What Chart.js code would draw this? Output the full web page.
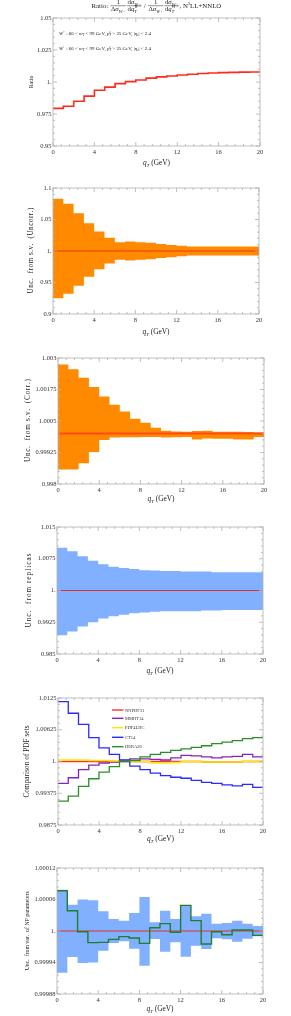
<!DOCTYPE html>
<html><head><meta charset="utf-8">
<script src="https://cdn.jsdelivr.net/npm/chart.js@4/dist/chart.umd.min.js"></script>
<style>
html,body{margin:0;padding:0;background:#fff;}
body{width:291px;height:1016px;overflow:hidden;position:relative;}
canvas{position:absolute;left:0;}
</style></head>
<body>
<canvas id="c1"></canvas><canvas id="c2"></canvas><canvas id="c3"></canvas>
<canvas id="c4"></canvas><canvas id="c5"></canvas><canvas id="c6"></canvas>
<script>
// ---------- data ----------
const qtEdges = [0,1,2,3,4,5,6,7,8,9,10,11,12,13,14,15,16,17,18,19,20];
const xTicks = [0,4,8,12,16,20];
const xTickLabels = ['0','4','8','12','16','20'];

const ratioValues = [0.9794,0.981,0.985,0.989,0.9935,0.996,0.9987,1.0003,1.0016,1.003,1.004,1.0047,1.0055,1.006,1.0066,1.007,1.0073,1.0075,1.0077,1.0078];
const ratioTicks = [0.95,0.975,1,1.025,1.05];
const ratioTickLabels = ['0.95','0.975','1.','1.025','1.05'];

const centralOnes = [1,1,1,1,1,1,1,1,1,1,1,1,1,1,1,1,1,1,1,1];

const svUncorrUp = [1.083,1.075,1.060,1.044,1.031,1.021,1.014,1.015,1.014,1.013,1.011,1.0095,1.0085,1.007,1.007,1.007,1.007,1.007,1.007,1.007];
const svUncorrDown = [0.925,0.932,0.945,0.959,0.971,0.980,0.986,0.985,0.986,0.987,0.989,0.990,0.9915,0.993,0.993,0.993,0.993,0.993,0.993,0.993];
const svUncorrTicks = [0.9,0.95,1,1.05,1.1];
const svUncorrTickLabels = ['0.9','0.95','1.','1.05','1.1'];

const svCorrUp = [1.00274,1.00255,1.00222,1.00185,1.00147,1.00114,1.00088,1.00059,1.00043,1.00023,1.00011,1.00008,1.00007,1.0001,1.00011,1.00007,1.00007,1.00007,1.00006,1.00004];
const svCorrDown = [0.99858,0.99858,0.99882,0.99927,0.99975,0.99985,0.99986,0.99986,0.99987,0.99987,0.99985,0.99986,0.99987,0.99977,0.99981,0.9998,0.9998,0.99977,0.99977,0.99987];
const svCorrTicks = [0.998,0.99925,1.0005,1.00175,1.003];
const svCorrTickLabels = ['0.998','0.99925','1.0005','1.00175','1.003'];

const replicaUp = [1.0101,1.0093,1.0081,1.0070,1.0062,1.0056,1.0053,1.0051,1.0048,1.0047,1.0046,1.0046,1.0045,1.0045,1.0045,1.0043,1.0043,1.0043,1.0043,1.0043];
const replicaDown = [0.9894,0.9903,0.9915,0.9925,0.9934,0.9939,0.9943,0.9946,0.9948,0.995,0.9951,0.9951,0.9951,0.9951,0.9953,0.9953,0.9954,0.9954,0.9954,0.9954];
const replicaTicks = [0.985,0.9925,1,1.0075,1.015];
const replicaTickLabels = ['0.985','0.9925','1.','1.0075','1.015'];

const nnpdf31 = [1,1,1,1,1,1,1,1,1,1,1,1,1,1,0.9999,0.9999,0.9999,0.9999,1,1];
const mmht14 = [0.9957,0.9968,0.9984,0.9993,0.9997,0.9999,1.0002,1.0005,1.0005,1.0004,1.0003,1.0007,1.0012,1.0011,1.0009,1.0007,1.0009,1.001,1.0014,1.0009];
const pdf4lhc = [1.0003,1.0003,1.0003,1.0002,1.0002,1.0001,1.0001,1.0,1.0,0.9997,0.9997,0.9998,1.0,1.0,0.9999,0.9999,0.9999,0.9999,1.0,1.0];
const ct14 = [1.0118,1.0095,1.0073,1.0047,1.0027,1.0014,1.0003,0.9991,0.9984,0.9977,0.9972,0.9969,0.9967,0.9963,0.9959,0.9957,0.9954,0.9952,0.9955,0.9949];
const hera20 = [0.9922,0.9932,0.9951,0.9966,0.9979,0.999,1.0,1.0002,1.0009,1.0014,1.0018,1.0022,1.0025,1.0028,1.0031,1.0035,1.0038,1.0041,1.0045,1.0047];
const pdfSetNames = ['NNPDF31','MMHT14','PDF4LHC','CT14','HERA20'];
const pdfTicks = [0.9875,0.99375,1,1.00625,1.0125];
const pdfTickLabels = ['0.9875','0.99375','1.','1.00625','1.0125'];

const npUp = [1.0000787,1.00005,1.00006,1.0000584,1.0000375,1.0000229,1.0000197,1.0000343,1.0000648,1.0000165,1.0000387,1.0000229,1.0000495,1.0000279,1.000033,1.000014,1.0000152,1.0000197,1.000014,1.0000095];
const npDown = [0.9999206,0.9999505,0.999939,0.99994,0.9999625,0.9999771,0.9999803,0.9999663,0.999934,0.9999848,0.9999606,0.9999784,0.999951,0.999972,0.9999657,0.999986,0.9999841,0.9999797,0.9999854,0.9999898];
const npVariation = [1.0000768,1.0000387,0.9999987,0.9999778,0.9999784,0.9999841,0.9999892,0.9999867,0.9999765,1.0000063,1.000014,0.9999975,1.0000489,1.0000197,0.9999752,0.9999987,0.999993,1.0000019,1.0000019,0.9999917];
const npTicks = [0.99988,0.99994,1,1.00006,1.00012];
const npTickLabels = ['0.99988','0.99994','1.','1.00006','1.00012'];

// ---------- helpers ----------
const FONT = "'Liberation Serif','DejaVu Serif',serif";
const fnt = (s, it) => (it ? 'italic ' : '') + s.toFixed(2) + 'px ' + FONT;
const steps = vals => vals.map((v, i) => ({x: qtEdges[i], y: v})).concat([{x: qtEdges[vals.length], y: vals[vals.length - 1]}]);
const line = (vals, color, width, label, order) => ({label, data: steps(vals), borderColor: color, borderWidth: width, stepped: true, fill: false, pointRadius: 0, order});
const band = (lo, hi, color) => [
  {data: steps(lo), borderColor: 'rgba(0,0,0,0)', borderWidth: 0, stepped: true, fill: false, pointRadius: 0, order: 20},
  {data: steps(hi), borderColor: 'rgba(0,0,0,0)', borderWidth: 0, stepped: true, fill: '-1', backgroundColor: color, pointRadius: 0, order: 19}
];

function partWidth(ctx, p, size) {
  if (p.num) return Math.max(partsWidth(ctx, p.num, size), partsWidth(ctx, p.den, size)) + size * 0.3;
  if (p.sub !== undefined) { ctx.font = fnt(size * 0.65, p.i); return Math.max(ctx.measureText(p.sub).width, ctx.measureText(p.sup).width); }
  ctx.font = fnt(p.s ? size * 0.65 : size, p.i);
  return ctx.measureText(p.t).width;
}
function partsWidth(ctx, parts, size) { let w = 0; for (const p of parts) w += partWidth(ctx, p, size); return w; }
function drawParts(ctx, parts, x, y, size) {
  let cx = x;
  for (const p of parts) {
    const w = partWidth(ctx, p, size);
    if (p.num) {
      const axis = y - size * 0.3;
      const wn = partsWidth(ctx, p.num, size), wd = partsWidth(ctx, p.den, size);
      drawParts(ctx, p.num, cx + (w - wn) / 2, axis - size * 0.2, size);
      drawParts(ctx, p.den, cx + (w - wd) / 2, axis + size * 0.8, size);
      ctx.beginPath(); ctx.moveTo(cx + size * 0.08, axis); ctx.lineTo(cx + w - size * 0.08, axis);
      ctx.lineWidth = 0.5; ctx.stroke();
    } else if (p.sub !== undefined) {
      ctx.font = fnt(size * 0.65, p.i);
      ctx.fillText(p.sup, cx, y - size * 0.4);
      ctx.fillText(p.sub, cx, y + size * 0.22);
    } else {
      ctx.font = fnt(p.s ? size * 0.65 : size, p.i);
      const dy = p.s === 'sub' ? size * 0.22 : p.s === 'sup' ? -size * 0.4 : 0;
      ctx.fillText(p.t, cx, y + dy);
    }
    cx += w;
  }
  return cx - x;
}

const titleParts = [
  {t: 'Ratio: '},
  {num: [{t: '1'}], den: [{t: 'Δ'}, {t: 'σ', i: true}, {t: 'W−', s: 'sub', i: true}]},
  {num: [{t: 'd'}, {t: 'σ', i: true}, {t: 'W−', s: 'sub', i: true}], den: [{t: 'd'}, {t: 'q', i: true}, {sub: 'T', sup: 'W−', i: true}]},
  {t: ' / '},
  {num: [{t: '1'}], den: [{t: 'Δ'}, {t: 'σ', i: true}, {t: 'W+', s: 'sub', i: true}]},
  {num: [{t: 'd'}, {t: 'σ', i: true}, {t: 'W+', s: 'sub', i: true}], den: [{t: 'd'}, {t: 'q', i: true}, {sub: 'T', sup: 'W+', i: true}]},
  {t: ', N'}, {t: '3', s: 'sup'}, {t: 'LL+NNLO'}
];
const cutParts = sign => [
  {t: 'W', i: true}, {t: sign, s: 'sup'}, {t: ' : 66 < '}, {t: 'm', i: true}, {t: 'T', s: 'sub', i: true},
  {t: ' < 99 GeV, '}, {t: 'p', i: true}, {sub: 'T', sup: 'ℓ', i: true}, {t: ' > 25 GeV, |'},
  {t: 'η', i: true}, {t: 'ℓ', s: 'sub', i: true}, {t: '| < 2.4'}
];
const xTitleParts = [{t: 'q', i: true}, {t: 'T', s: 'sub', i: true}, {t: ' (GeV)'}];

const deco = {
  id: 'deco',
  afterDatasetsDraw(chart, args, o) {
    const ctx = chart.ctx, a = chart.chartArea, xs = chart.scales.x, ys = chart.scales.y;
    ctx.save();
    ctx.strokeStyle = '#b0b0b0'; ctx.lineWidth = 0.8;
    ctx.strokeRect(a.left, a.top, a.right - a.left, a.bottom - a.top);
    const mark = (scale, v, len, vert) => {
      ctx.beginPath();
      if (vert) {
        const py = scale.getPixelForValue(v);
        ctx.moveTo(a.left, py); ctx.lineTo(a.left + len, py);
        ctx.moveTo(a.right, py); ctx.lineTo(a.right - len, py);
      } else {
        const px = scale.getPixelForValue(v);
        ctx.moveTo(px, a.bottom); ctx.lineTo(px, a.bottom - len);
        ctx.moveTo(px, a.top); ctx.lineTo(px, a.top + len);
      }
      ctx.stroke();
    };
    const ticks = (scale, vert) => {
      const m = scale.ticks.map(t => t.value);
      m.forEach((v, k) => {
        mark(scale, v, 4, vert);
        if (k < m.length - 1) { const d = (m[k + 1] - v) / 5; for (let j = 1; j < 5; j++) mark(scale, v + j * d, 2, vert); }
      });
    };
    ticks(xs, false); ticks(ys, true);

    ctx.fillStyle = '#222'; ctx.strokeStyle = '#222';
    ctx.textBaseline = 'alphabetic'; ctx.textAlign = 'left';
    // x title (fit to ~27px)
    const xw1 = partsWidth(ctx, xTitleParts, 10);
    const xs6 = 10 * 27 / xw1;
    drawParts(ctx, xTitleParts, (a.left + a.right) / 2 - 13.5, o.xTitleY + xs6 * 0.3, xs6);
    // y title: font size fitted within limits, remainder via letter spacing
    ctx.save();
    ctx.font = fnt(10, false);
    const w10 = ctx.measureText(o.yTitle).width;
    const ysz = Math.min(7.2, Math.max(5.8, 10 * o.yTitleLen / w10));
    ctx.font = fnt(ysz, false);
    const natural = ctx.measureText(o.yTitle).width;
    const n = o.yTitle.length;
    const sp = Math.max(0, (o.yTitleLen - natural) / Math.max(1, n - 1));
    ctx.translate(o.yTitleX, (a.top + a.bottom) / 2);
    ctx.rotate(-Math.PI / 2);
    const total = natural + sp * (n - 1);
    let cx = -total / 2;
    for (const ch of o.yTitle) {
      ctx.fillText(ch, cx, ysz * 0.3);
      cx += ctx.measureText(ch).width + sp;
    }
    ctx.restore();
    ctx.textAlign = 'left';
    if (o.title) {
      const w1 = partsWidth(ctx, titleParts, 10);
      const s = 10 * 130 / w1;
      drawParts(ctx, titleParts, (a.left + a.right) / 2 - 65, 7.8, s);
    }
    if (o.cuts) {
      ['−', '+'].forEach((sg, k) => {
        const pr = cutParts(sg);
        const w1 = partsWidth(ctx, pr, 10);
        const s = 10 * 92 / w1;
        drawParts(ctx, pr, 59, [34.5, 50][k], s);
      });
    }
    if (o.legend) {
      const ds = chart.data.datasets.filter(d => d.label);
      ds.forEach((d, k) => {
        const y = o.legendY[k];
        ctx.strokeStyle = d.borderColor; ctx.lineWidth = 1.4;
        ctx.beginPath(); ctx.moveTo(112, y); ctx.lineTo(123.5, y); ctx.stroke();
        ctx.fillStyle = '#333'; ctx.font = fnt(4.5, false);
        ctx.fillText(d.label, 125, y + 1.5);
      });
    }
    ctx.restore();
  }
};

const panels = [
  {id: 'c1', top: 0, h: 170, area: [53, 18, 260, 146], yMin: 0.95, yMax: 1.05, yTicks: ratioTicks, yLabels: ratioTickLabels,
   datasets: [line(ratioValues, '#ff2a1a', 1.6, undefined, 0)],
   deco: {yTitle: 'Ratio', yTitleLen: 12.5, yTitleX: 31, xTitleY: 163, title: true, cuts: true}},
  {id: 'c2', top: 170, h: 167, area: [53, 188, 259, 314], yMin: 0.9, yMax: 1.1, yTicks: svUncorrTicks, yLabels: svUncorrTickLabels,
   datasets: [...band(svUncorrDown, svUncorrUp, '#ff8a00'), line(centralOnes, '#e8361c', 1.2, undefined, 0)],
   deco: {yTitle: 'Unc.  from s.v.  (Uncorr.)', yTitleLen: 85, yTitleX: 31, xTitleY: 162}},
  {id: 'c3', top: 337, h: 168, area: [58, 358, 264, 484], yMin: 0.998, yMax: 1.003, yTicks: svCorrTicks, yLabels: svCorrTickLabels,
   datasets: [...band(svCorrDown, svCorrUp, '#ff8a00'), line(centralOnes, '#ff4a14', 2, undefined, 0)],
   deco: {yTitle: 'Unc.  from s.v.  (Corr.)', yTitleLen: 82, yTitleX: 28, xTitleY: 162}},
  {id: 'c4', top: 505, h: 170, area: [57, 527, 263, 654], yMin: 0.985, yMax: 1.015, yTicks: replicaTicks, yLabels: replicaTickLabels,
   datasets: [...band(replicaDown, replicaUp, '#80b0ff'), line(centralOnes, '#e0302a', 1.1, undefined, 0)],
   deco: {yTitle: 'Unc.  from replicas', yTitleLen: 74, yTitleX: 29, xTitleY: 166}},
  {id: 'c5', top: 675, h: 170, area: [58, 698, 263, 825], yMin: 0.9875, yMax: 1.0125, yTicks: pdfTicks, yLabels: pdfTickLabels,
   datasets: [line(nnpdf31, '#ff3030', 1.3, pdfSetNames[0], 4), line(mmht14, '#8a22b8', 1.3, pdfSetNames[1], 3),
              line(pdf4lhc, '#ffe800', 1.3, pdfSetNames[2], 2), line(ct14, '#2a2aff', 1.3, pdfSetNames[3], 1),
              line(hera20, '#2a8f2a', 1.3, pdfSetNames[4], 0)],
   deco: {yTitle: 'Comparison of PDF sets', yTitleLen: 72, yTitleX: 26.5, xTitleY: 164, legend: true, legendY: [35, 43.3, 52.7, 62.3, 71.7]}},
  {id: 'c6', top: 845, h: 171, area: [57, 868, 263, 994], yMin: 0.99988, yMax: 1.00012, yTicks: npTicks, yLabels: npTickLabels,
   datasets: [...band(npDown, npUp, '#80b0ff'), line(centralOnes, '#e0302a', 1.1, undefined, 1), line(npVariation, '#1f7f2a', 1.4, undefined, 0)],
   deco: {yTitle: 'Unc.  from var.  of NP parameters', yTitleLen: 78, yTitleX: 27.5, xTitleY: 164}}
];

function makeChart(p) {
  const cv = document.getElementById(p.id);
  cv.style.top = p.top + 'px';
  cv.width = 291; cv.height = p.h;
  cv.style.width = '291px'; cv.style.height = p.h + 'px';
  const [L, T, R, B] = p.area;
  const t = T - p.top, b = B - p.top;
  const tickFont = {family: FONT, size: 6.5};
  new Chart(cv, {
    type: 'line',
    data: {datasets: p.datasets},
    options: {
      responsive: false, animation: false, devicePixelRatio: 1,
      layout: {padding: {left: 0, right: 291 - R, top: t, bottom: 0}},
      plugins: {legend: {display: false}, tooltip: {enabled: false}, deco: p.deco},
      elements: {point: {radius: 0}, line: {tension: 0}},
      scales: {
        x: {type: 'linear', min: 0, max: 20,
          afterBuildTicks: s => { s.ticks = xTicks.map(v => ({value: v})); },
          afterFit: s => { s.height = p.h - b; s.paddingLeft = 0; s.paddingRight = 0; },
          grid: {display: false, drawTicks: false}, border: {display: false},
          ticks: {font: tickFont, color: '#333', padding: 2.5, maxRotation: 0, minRotation: 0, autoSkip: false, callback: (v, i) => xTickLabels[i]}},
        y: {type: 'linear', min: p.yMin, max: p.yMax,
          afterBuildTicks: s => { s.ticks = p.yTicks.map(v => ({value: v})); },
          afterFit: s => { s.width = L; s.paddingTop = 0; s.paddingBottom = 0; },
          grid: {display: false, drawTicks: false}, border: {display: false},
          ticks: {font: tickFont, color: '#333', padding: 1.5, autoSkip: false, callback: (v, i) => p.yLabels[i]}}
      }
    },
    plugins: [deco]
  });
}
panels.forEach(makeChart);
</script>
</body></html>
